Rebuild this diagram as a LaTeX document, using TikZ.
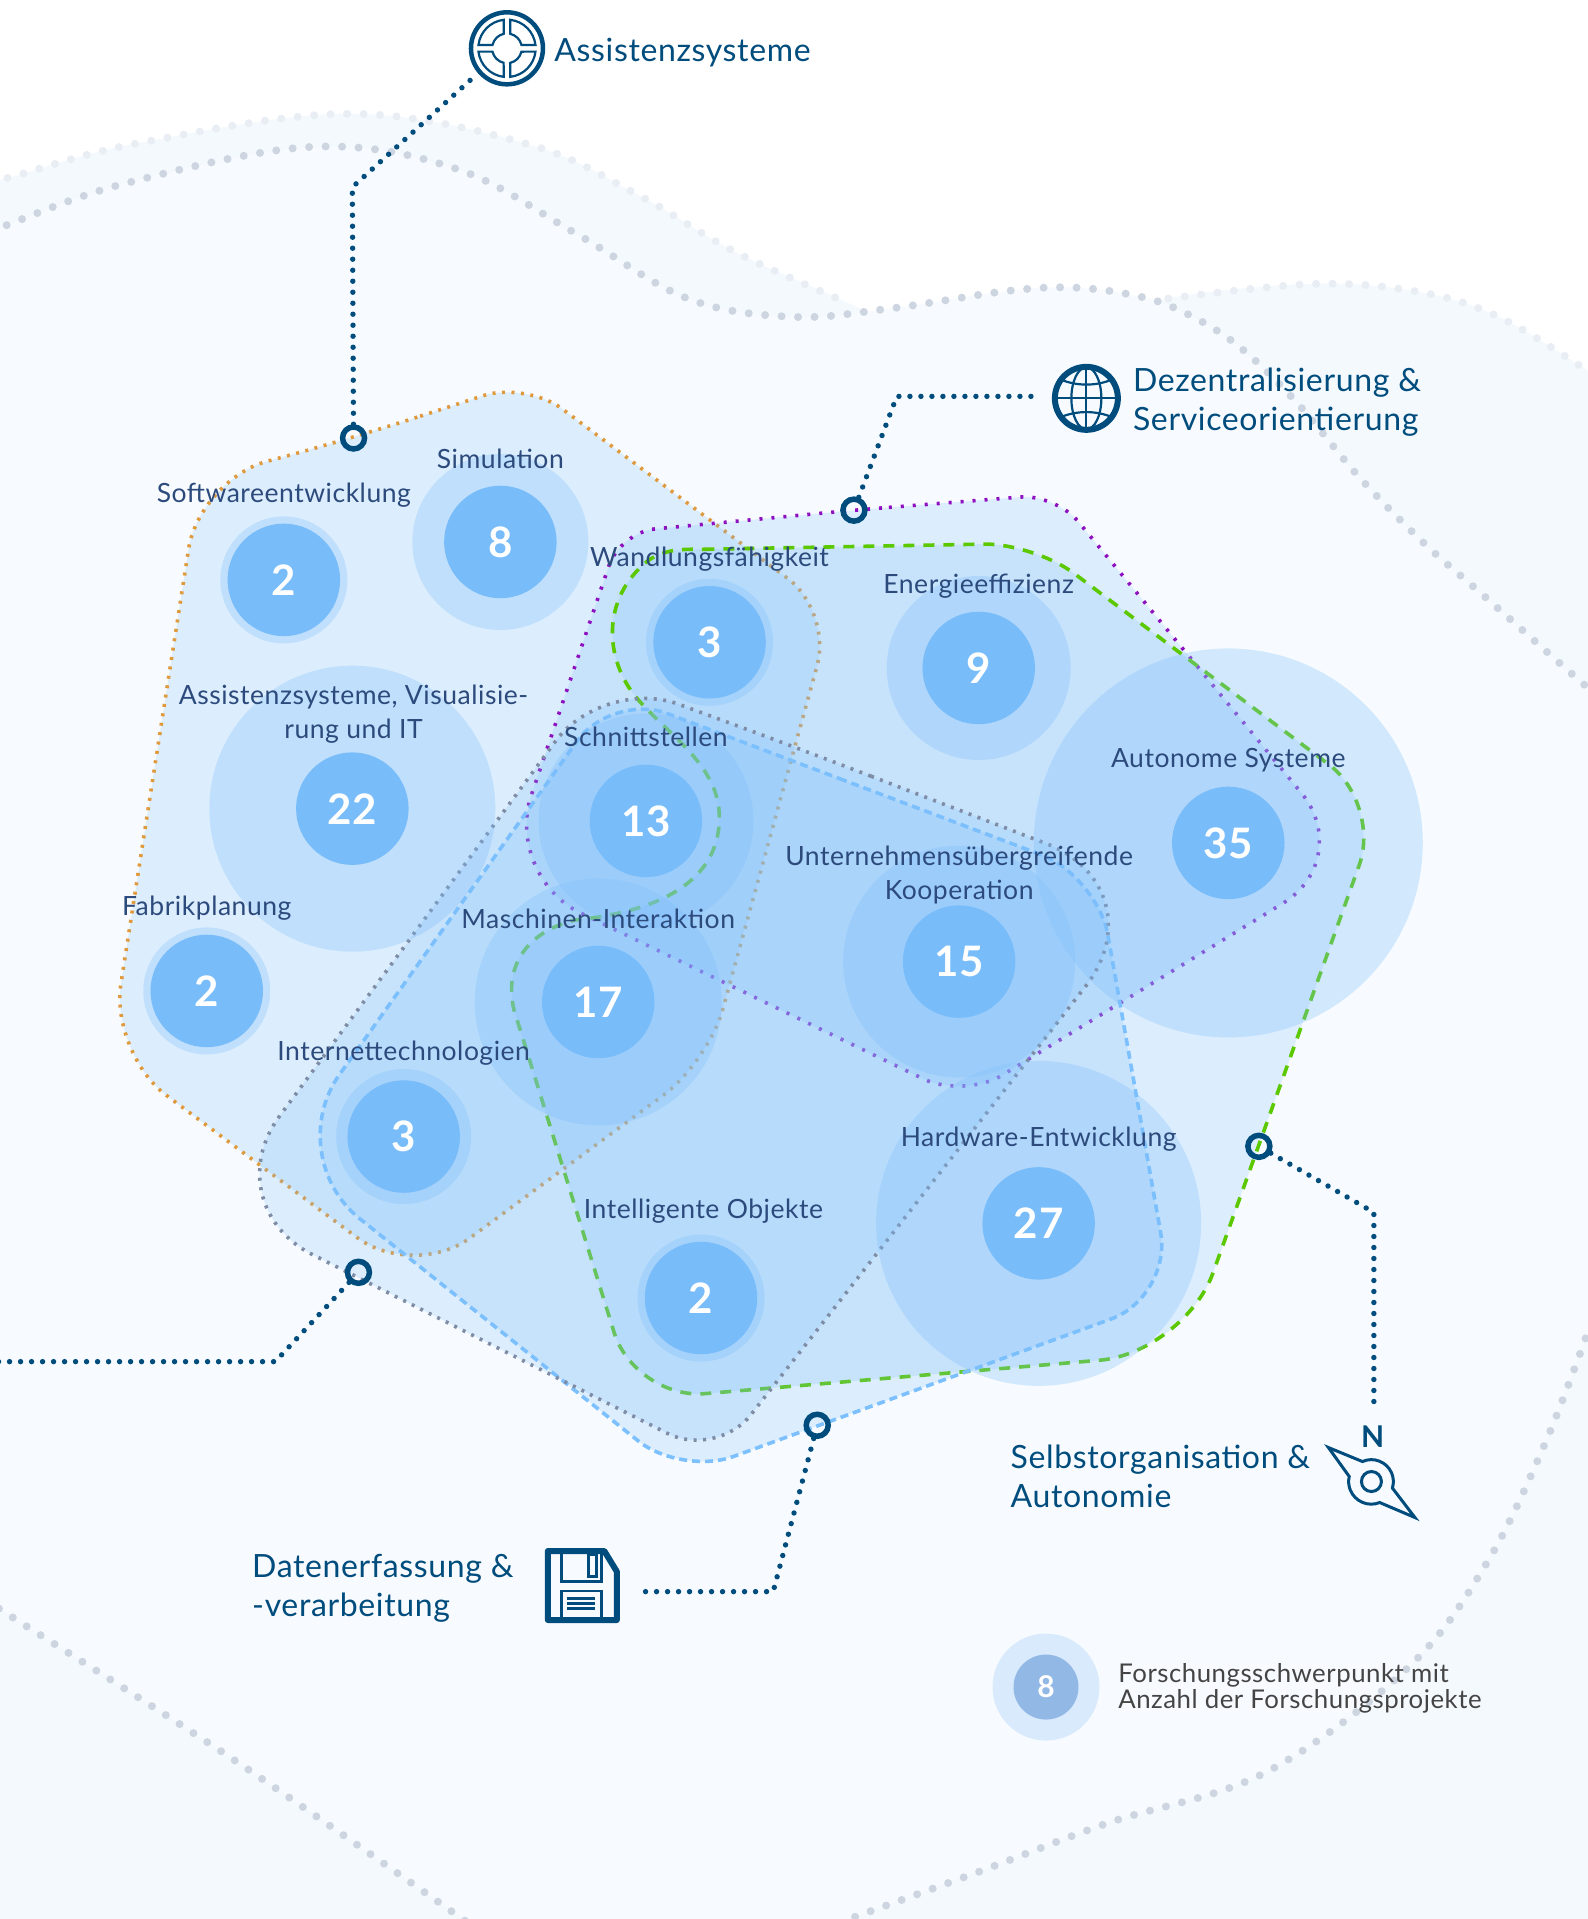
\documentclass[tikz,border=0pt]{standalone}
\usepackage{fontspec}
\setmainfont{Lato}[LetterSpace=2]
\definecolor{navy}{HTML}{004C7D}
\definecolor{labtext}{HTML}{2C4A7C}
\definecolor{coreblue}{HTML}{78BCFA}
\definecolor{haloblue}{HTML}{7CBEFA}
\definecolor{bgmain}{HTML}{F7FBFF}
\definecolor{bgside}{HTML}{F4F9FE}
\definecolor{dotgray}{HTML}{CDD5E1}
\definecolor{dotlight}{HTML}{E9EEF5}
\tikzset{
  halo/.style={circle, fill=haloblue, fill opacity=0.3, inner sep=0pt},
  core/.style={circle, fill=coreblue, inner sep=0pt, minimum size=112.5pt, text=white,
    font=\fontsize{42}{42}\selectfont\bfseries},
  lab/.style={text=labtext, align=center, inner sep=0pt, font=\fontsize{26.5}{34}\selectfont},
  callout/.style={text=navy, align=left, anchor=west, inner sep=0pt, font=\fontsize{32}{39}\selectfont},
  ring/.style={circle, draw=navy, line width=5.5pt, inner sep=0pt, minimum size=22pt},
  link/.style={draw=navy, line width=5.4pt, line cap=round, dash pattern=on 0pt off 11pt},
  wave/.style={line width=8pt, line cap=round, dash pattern=on 0pt off 16.5pt},
  blob/.style={fill=haloblue, fill opacity=0.21, line width=3.6pt},
  icon/.style={draw=navy, line width=2.2pt},
}
\begin{document}
\begin{tikzpicture}[x=1.2234pt, y=-1.2234pt]
\useasboundingbox (0,0) rectangle (1298,1568.6);
\clip (0,0) rectangle (1298,1568.6);
% backdrop
\fill[white] (0,0) rectangle (1298,1568.6);
\fill[bgside] plot[smooth, tension=0.6] coordinates {(-20,152) (8,145) (113,117) (286,93) (432,118) (521,159) (601,206) (694,248) (800,300) (900,270) (955,244) (1076,232) (1162,239) (1225,259) (1293,300) (1320,320)} -- (1320,1600) -- (-20,1600) -- cycle;
\fill[bgmain] plot[smooth, tension=0.6] coordinates {(-20,193) (0,186) (102,150) (256,120) (373,138) (471,191) (562,244) (648,259) (729,252) (822,238) (876,235) (925,241) (963,253) (1010,281) (1059,328) (1111,390) (1164,444) (1214,488) (1293,558) (1320,580)} -- (1320,1094) -- plot[smooth, tension=0.6] coordinates {(1296,1094) (1262,1182) (1215,1278) (1151,1363) (1034,1449) (906,1490) (800,1530) (690,1570)} -- plot[smooth, tension=0.6] coordinates {(380,1570) (192,1439) (4,1318) (-20,1303)} -- cycle;
\draw[wave, dotlight] plot[smooth, tension=0.6] coordinates {(-20,152) (8,145) (113,117) (286,93) (432,118) (521,159) (601,206) (694,248)};
\draw[wave, dotlight] plot[smooth, tension=0.6] coordinates {(955,244) (1076,232) (1162,239) (1225,259) (1293,300) (1320,320)};
\draw[wave, dotgray] plot[smooth, tension=0.6] coordinates {(-20,193) (0,186) (102,150) (256,120) (373,138) (471,191) (562,244) (648,259) (729,252) (822,238) (876,235) (925,241) (963,253) (1010,281) (1059,328) (1111,390) (1164,444) (1214,488) (1293,558) (1320,580)};
\draw[wave, dotgray] plot[smooth, tension=0.6] coordinates {(1296,1094) (1262,1182) (1215,1278) (1151,1363) (1034,1449) (906,1490) (800,1530) (690,1570)};
\draw[wave, dotgray] plot[smooth, tension=0.6] coordinates {(380,1570) (192,1439) (4,1318) (-20,1303)};
% research fields
\path[blob, draw={rgb,255:red,224;green,154;blue,62}, dash pattern=on 3pt off 6.5pt]
  [rounded corners=45pt] (289,358) -- (430,312) [rounded corners=55pt] -- (680,500) -- (579,868) [rounded corners=70pt] -- (338,1046) -- (90,861) [rounded corners=70pt] -- (163,392) -- cycle;
\path[blob, draw={rgb,255:red,142;green,15;blue,191}, dash pattern=on 3pt off 9pt]
  [rounded corners=35pt] (698,417) -- (863,404) [rounded corners=85pt] -- (1108,702) [rounded corners=45pt] -- (788,898) [rounded corners=85pt] -- (412,716) [rounded corners=35pt] -- (507,435) -- cycle;
\path[blob, draw={rgb,255:red,92;green,200;blue,0}, dash pattern=on 11pt off 9pt]
  [rounded corners=50pt] (575,449) -- (845,444) [rounded corners=65pt] -- (1129,657) [rounded corners=85pt] -- (968,1106) [rounded corners=70pt] -- (519,1144) [sharp corners] -- (420,825)
  .. controls (412,790) and (430,762) .. (470,752) .. controls (540,745) and (588,720) .. (588,668)
  .. controls (588,625) and (545,600) .. (520,570) .. controls (495,540) and (490,490) .. (530,458)
  .. controls (545,448) and (560,449) .. (575,449) -- cycle;
\path[blob, draw={rgb,255:red,124;green,192;blue,255}, dash pattern=on 8pt off 5pt]
  [rounded corners=60pt] (640,619) -- (897,716) [rounded corners=65pt] -- (958,1060) [rounded corners=55pt] -- (557,1206) [rounded corners=100pt] -- (230,945) [rounded corners=60pt] -- (500,566) -- cycle;
\path[blob, draw={rgb,255:red,126;green,140;blue,165}, dash pattern=on 3pt off 6.5pt]
  [rounded corners=125pt] (651,611) -- (950,726) [rounded corners=55pt] -- (586,1192) [rounded corners=110pt] -- (175,985) [rounded corners=80pt] -- (493,553) -- cycle;
% halos
\begin{scope}[every node/.style={halo}]
    \node[minimum size=127pt] (o1) at (232,474) {};
    \node[minimum size=176pt] (o2) at (409,443) {};
    \node[minimum size=127pt] (o3) at (580,525) {};
    \node[minimum size=184pt] (o4) at (800,546) {};
    \node[minimum size=389pt] (o5) at (1004,689) {};
    \node[minimum size=286pt] (o6) at (288,661) {};
    \node[minimum size=215pt] (o7) at (528,671) {};
    \node[minimum size=232pt] (o8) at (784,786) {};
    \node[minimum size=127pt] (o9) at (169,810) {};
    \node[minimum size=247pt] (o10) at (489,819) {};
    \node[minimum size=135pt] (o11) at (330,929) {};
    \node[minimum size=127pt] (o12) at (573,1061) {};
    \node[minimum size=325pt] (o13) at (849,1000) {};
\end{scope}
% counts
\begin{scope}[every node/.style={core}]
    \node (n1) at (o1) {2};
    \node (n2) at (o2) {8};
    \node (n3) at (o3) {3};
    \node (n4) at (o4) {9};
    \node (n5) at (o5) {35};
    \node (n6) at (o6) {22};
    \node (n7) at (o7) {13};
    \node (n8) at (o8) {15};
    \node (n9) at (o9) {2};
    \node (n10) at (o10) {17};
    \node (n11) at (o11) {3};
    \node (n12) at (o12) {2};
    \node (n13) at (o13) {27};
\end{scope}
% labels
\begin{scope}[every node/.style={lab}]
    \node (t1) at (232,405) {Softwareentwicklung};
    \node (t2) at (409,375) {Simulation};
    \node (t3) at (580,457) {Wandlungsfähigkeit};
    \node (t4) at (800,479) {Energieeffizienz};
    \node (t5) at (1004,621) {Autonome Systeme};
    \node (t6) at (289,584) {Assistenzsysteme, Visualisie-\\rung und IT};
    \node (t7) at (528,602) {Schnittstellen};
    \node (t8) at (784,715) {Unternehmensübergreifende\\Kooperation};
    \node (t9) at (169,742) {Fabrikplanung};
    \node (t10) at (489,751) {Maschinen-Interaktion};
    \node (t11) at (330,861) {Internettechnologien};
    \node (t12) at (849,931) {Hardware-Entwicklung};
    \node (t13) at (575,990) {Intelligente Objekte};
\end{scope}
% connectors
\node[ring] (r1) at (289,358) {};
\node[ring] (r2) at (698,417) {};
\node[ring] (r3) at (1029,937) {};
\node[ring] (r4) at (668,1165) {};
\node[ring] (r5) at (293,1040) {};
\coordinate (b1) at (288,153);
\coordinate (e1) at (385,65);
\coordinate (b2) at (733,324);
\coordinate (e2) at (845,324);
\coordinate (b3) at (1123,991);
\coordinate (e3) at (1123,1153);
\coordinate (b4) at (632,1301);
\coordinate (e4) at (519,1301);
\coordinate (b5) at (225,1113);
\coordinate (e5) at (-5,1113);
\draw[link] (r1) -- (b1) -- (e1);
\draw[link] (r2) -- (b2) -- (e2);
\draw[link] (r3) -- (b3) -- (e3);
\draw[link] (r4) -- (b4) -- (e4);
\draw[link] (r5) -- (b5) -- (e5);
% callouts
\node[callout] (c1) at (453,43) {Assistenzsysteme};
\node[callout] (c2) at (926,329) {Dezentralisierung \&\\Serviceorientierung};
\node[callout] (c3) at (826,1207) {Selbstorganisation \&\\Autonomie};
\node[callout] (c4) at (206,1298) {Datenerfassung \&\\-verarbeitung};
% steering wheel icon
\begin{scope}[shift={(414.4,39.5)}, x=1pt, y=1pt]
    \draw[icon, line width=4.5pt] (0,0) circle (36);
    \draw[icon] (3.3,28.5) arc[start angle=83.4, end angle=6.6, radius=28.7] -- (14.5,3.3) arc[start angle=13, end angle=77, radius=14.9] -- cycle;
    \draw[icon, rotate=90] (3.3,28.5) arc[start angle=83.4, end angle=6.6, radius=28.7] -- (14.5,3.3) arc[start angle=13, end angle=77, radius=14.9] -- cycle;
    \draw[icon, rotate=180] (3.3,28.5) arc[start angle=83.4, end angle=6.6, radius=28.7] -- (14.5,3.3) arc[start angle=13, end angle=77, radius=14.9] -- cycle;
    \draw[icon, rotate=270] (3.3,28.5) arc[start angle=83.4, end angle=6.6, radius=28.7] -- (14.5,3.3) arc[start angle=13, end angle=77, radius=14.9] -- cycle;
\end{scope}
% globe icon
\begin{scope}[shift={(888,325.6)}, x=1pt, y=1pt]
    \draw[icon, line width=6pt] (0,0) circle (31.5);
    \draw[icon] (0,0) ellipse (15 and 31);
    \draw[icon] (-31,0) -- (31,0) (0,31) -- (0,-31);
    \draw[icon] (-26,19) .. controls (-10,12) and (10,12) .. (26,19);
    \draw[icon] (-26,-19) .. controls (-10,-12) and (10,-12) .. (26,-19);
\end{scope}
% compass icon
\begin{scope}[shift={(1121,1211)}, x=1pt, y=1pt]
    \draw[icon, line width=3pt, line join=miter] (-43,34) -- (-9,20) arc[start angle=114, end angle=-17, radius=22] -- (43.5,-36) -- (8.3,-21) arc[start angle=-68, end angle=-193, radius=22.6] -- cycle;
    \draw[icon, line width=3pt] (0,0) circle (10);
\end{scope}
\node[text=navy, inner sep=0pt, font=\fontsize{30}{30}\selectfont\bfseries] (north) at (1122,1174) {N};
% disk icon
\begin{scope}[shift={(476,1296)}, x=1pt, y=1pt]
    \draw[icon, line width=6pt, line join=round] (-34.5,34.5) -- (22,34.5) -- (34.5,14) -- (34.5,-34.5) -- (-34.5,-34.5) -- cycle;
    \draw[icon, line width=2.5pt] (-21,34.5) -- (-21,4) -- (19.3,4) -- (19.3,34.5);
    \draw[icon, line width=3pt] (6,30.7) rectangle (14.3,9);
    \draw[icon, line width=2.5pt] (-21,-34.5) -- (-21,-5.3) -- (19.3,-5.3) -- (19.3,-34.5);
    \draw[icon, line width=3pt] (-15,-12.7) -- (12.7,-12.7) (-15,-17.7) -- (12.7,-17.7) (-15,-22.7) -- (12.7,-22.7);
\end{scope}
% legend
\node[circle, fill={rgb,255:red,217;green,234;blue,252}, inner sep=0pt, minimum size=107pt] (lo) at (855,1379) {};
\node[circle, fill={rgb,255:red,146;green,184;blue,230}, inner sep=0pt, minimum size=65pt, text=white, font=\fontsize{30}{30}\selectfont\bfseries] (ln) at (lo) {8};
\node[anchor=west, align=left, inner sep=0pt, text={rgb,255:red,68;green,68;blue,68}, font=\fontsize{25.8}{26.5}\selectfont] (lt) at (914,1380) {Forschungsschwerpunkt mit\\Anzahl der Forschungsprojekte};
\end{tikzpicture}
\end{document}
